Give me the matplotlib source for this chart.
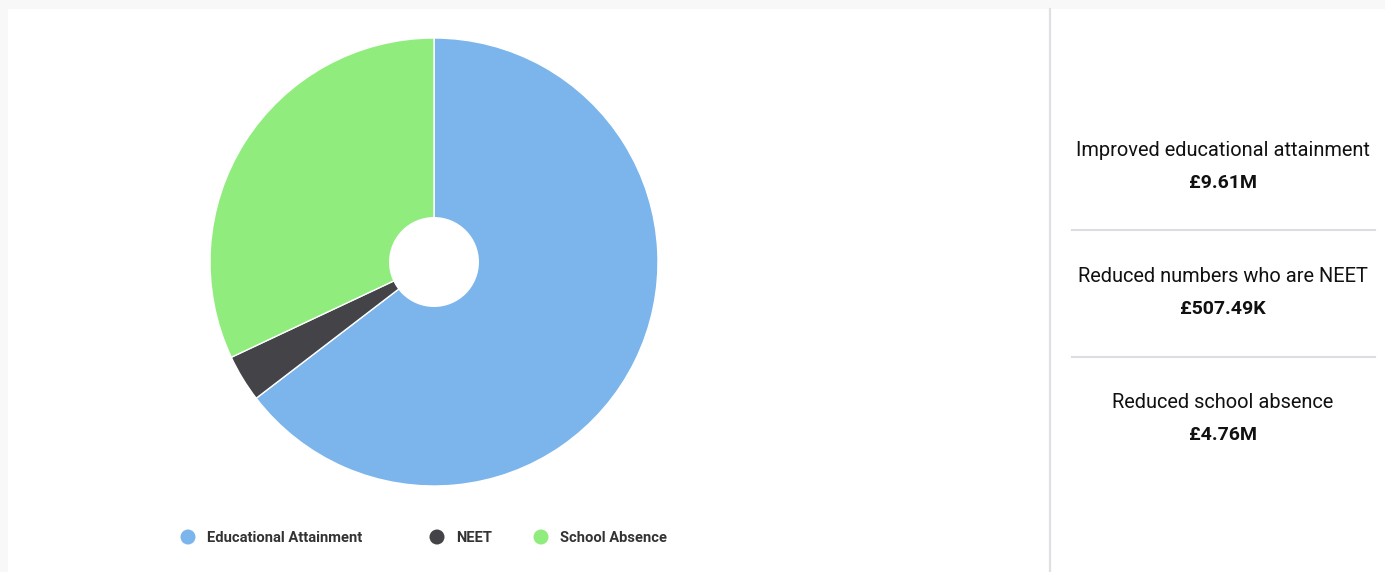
import matplotlib
matplotlib.use("Agg")
import matplotlib.pyplot as plt
from matplotlib.patches import Rectangle, Circle

categories = ["Educational Attainment", "NEET", "School Absence"]
values = [9.61, 0.50749, 4.76]
colors = ["#7cb5ec", "#434348", "#90ed7d"]
panel_labels = ["Improved educational attainment", "Reduced numbers who are NEET", "Reduced school absence"]
panel_values = ["£9.61M", "£507.49K", "£4.76M"]

W, H = 1385, 572
fig = plt.figure(figsize=(W / 100, H / 100), dpi=100)
fig.patch.set_facecolor("#f8f8f8")
ax = fig.add_axes([0, 0, 1, 1])
ax.set_xlim(0, W)
ax.set_ylim(0, H)
ax.axis("off")

def Y(y):
    return H - y

# card
ax.add_patch(Rectangle((8, 0), W - 8, Y(9), facecolor="white", edgecolor="none", zorder=0))
# separator
ax.plot([1050, 1050], [Y(9), 0], color="#dde0e4", lw=1.6, zorder=1)
for yy in [230, 357]:
    ax.plot([1072, 1375], [Y(yy), Y(yy)], color="#dadde1", lw=1.5, zorder=1)

# pie
ax.pie(values, colors=colors, startangle=90, counterclock=False,
       center=(434, Y(262)), radius=224, frame=True,
       wedgeprops=dict(edgecolor="white", linewidth=1))
ax.add_patch(Circle((434, Y(262)), 45, facecolor="white", edgecolor="none", zorder=5))
ax.set_xlim(0, W)
ax.set_ylim(0, H)
ax.set_aspect("auto")
ax.axis("off")

# legend
lx = [188, 437, 541]
for x, lab, c in zip(lx, categories, colors):
    ax.add_patch(Circle((x, Y(537)), 7.5, facecolor=c, edgecolor="none", zorder=6))
    ax.text(x + 19, Y(538), lab, fontsize=10.6, fontweight="bold", family="Roboto",
            color="#333333", va="center", ha="left")

# right panel
cx = 1223
for i, (lab, val) in enumerate(zip(panel_labels, panel_values)):
    y0 = 150 + i * 126
    ax.text(cx, Y(y0), lab, fontsize=14.4, family="Roboto", color="#111111",
            ha="center", va="center")
    ax.text(cx, Y(y0 + 33), val, fontsize=14, family="Roboto", fontweight="bold",
            color="#111111", ha="center", va="center")

fig.savefig("out.png", dpi=100, facecolor=fig.get_facecolor())
